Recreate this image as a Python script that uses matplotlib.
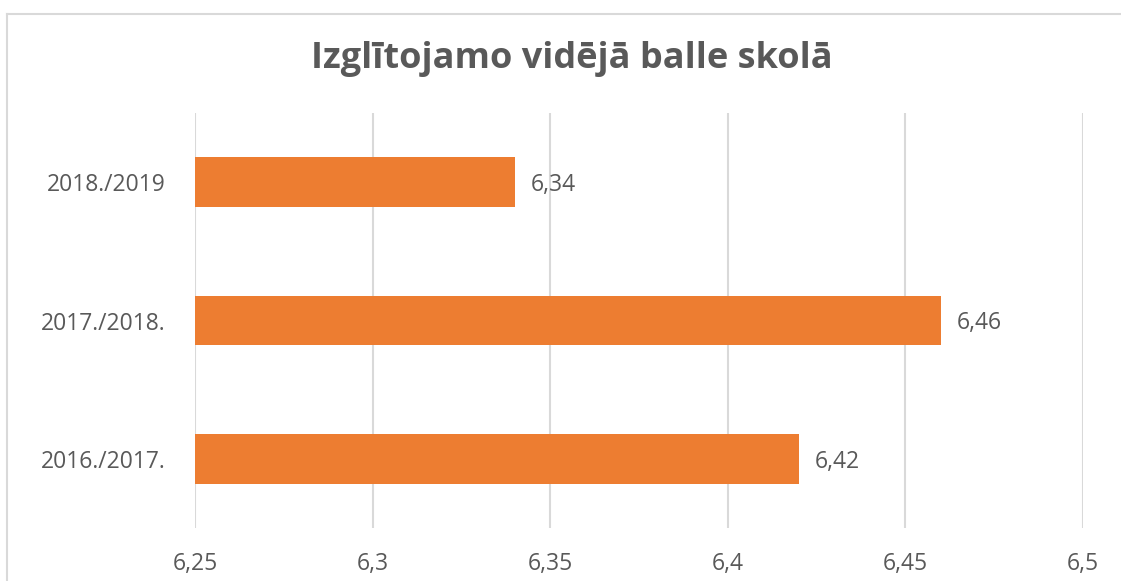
import matplotlib
matplotlib.use("Agg")
import matplotlib.pyplot as plt
from matplotlib.lines import Line2D

plt.rcParams['font.family'] = ['Open Sans', 'DejaVu Sans']

categories = ["2016./2017.", "2017./2018.", "2018./2019"]
values = [6.42, 6.46, 6.34]
value_labels = ["6,42", "6,46", "6,34"]
xticks = [6.25, 6.3, 6.35, 6.4, 6.45, 6.5]
xtick_labels = ["6,25", "6,3", "6,35", "6,4", "6,45", "6,5"]
title = "Izglītojamo vidējā balle skolā"

W, H = 1121, 581
fig = plt.figure(figsize=(W / 100, H / 100), dpi=100)
fig.patch.set_facecolor("white")

# chart area border (left and top visible)
fig.add_artist(Line2D([7 / W, 7 / W], [0, 1 - 14 / H], transform=fig.transFigure,
                      color="#d9d9d9", lw=1.5))
fig.add_artist(Line2D([7 / W, 1], [1 - 14 / H, 1 - 14 / H], transform=fig.transFigure,
                      color="#d9d9d9", lw=1.5))

left, right, top, bottom = 195, 1083, 113, 528
ax = fig.add_axes([left / W, 1 - bottom / H, (right - left) / W, (bottom - top) / H])

base = 6.25
ypos = list(range(len(categories)))
ax.barh(ypos, [v - base for v in values], left=base, height=0.36, color="#ED7D31", zorder=3)
for y, v, lab in zip(ypos, values, value_labels):
    ax.text(v + 0.0045, y - 0.02, lab, va="center", ha="left", fontsize=16.5, color="#595959")

ax.set_xlim(6.25, 6.5)
ax.set_ylim(-0.5, 2.5)
ax.set_xticks(xticks)
ax.set_xticklabels(xtick_labels, fontsize=16.5, color="#595959")
ax.set_yticks(ypos)
ax.set_yticklabels(categories, fontsize=16.5, color="#595959")
ax.tick_params(axis="both", length=0)
ax.tick_params(axis="x", pad=17)
ax.tick_params(axis="y", pad=21)
ax.grid(axis="x", color="#d9d9d9", lw=1.5, zorder=0)
for s in ax.spines.values():
    s.set_visible(False)

fig.text(572 / W, 1 - 59 / H, title, ha="center", va="center", fontsize=26,
         fontweight="bold", color="#595959")

fig.savefig("out.png", dpi=100)
